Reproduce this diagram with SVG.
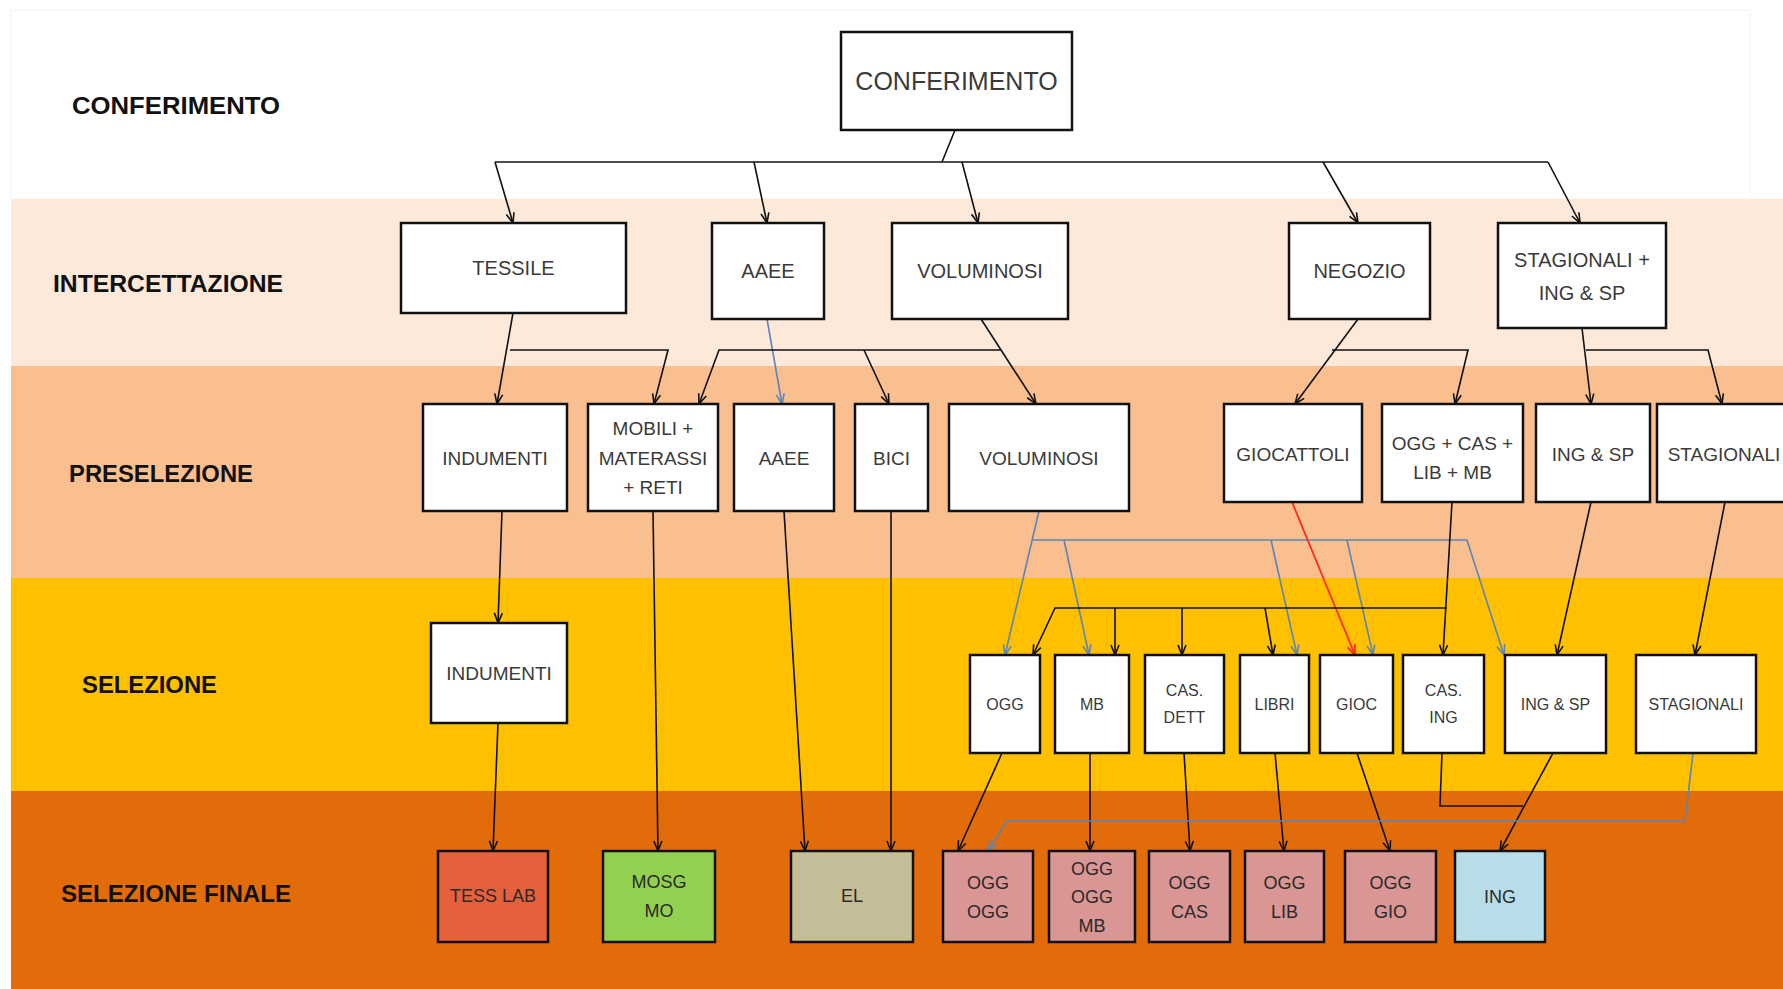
<svg xmlns="http://www.w3.org/2000/svg" width="1783" height="989" viewBox="0 0 1783 989">
<style>
.box{fill:#fff;stroke:#111;stroke-width:2.5}
.t{font-family:"Liberation Sans",Arial,sans-serif;fill:#3a3a3a;text-anchor:middle;dominant-baseline:central}
.t20{font-size:20px}.t19{font-size:19px}.t16{font-size:16px}.t18{font-size:18px;fill:#2a2a2a}
.lab{font-family:"Liberation Sans",Arial,sans-serif;font-weight:bold;font-size:24px;fill:#111;dominant-baseline:central}
.c{fill:none;stroke:#111;stroke-width:1.6}
.cb{fill:none;stroke:#5A85BA;stroke-width:1.6}
.cr{fill:none;stroke:#FF2A1A;stroke-width:1.8}
.a{marker-end:url(#ah)}
.ab{marker-end:url(#ahb)}
.ar{marker-end:url(#ahr)}
</style>
<defs>
<marker id="ah" viewBox="0 0 12 10" refX="11" refY="5" markerWidth="12" markerHeight="10" orient="auto" markerUnits="userSpaceOnUse"><path d="M1,1 L11,5 L1,9" fill="none" stroke="#111" stroke-width="1.6"/></marker>
<marker id="ahb" viewBox="0 0 12 10" refX="11" refY="5" markerWidth="12" markerHeight="10" orient="auto" markerUnits="userSpaceOnUse"><path d="M1,1 L11,5 L1,9" fill="none" stroke="#5A85BA" stroke-width="1.6"/></marker>
<marker id="ahr" viewBox="0 0 12 10" refX="11" refY="5" markerWidth="12" markerHeight="10" orient="auto" markerUnits="userSpaceOnUse"><path d="M1,1 L11,5 L1,9" fill="none" stroke="#FF2A1A" stroke-width="1.8"/></marker>
</defs>
<rect x="0" y="0" width="1783" height="989" fill="#fff"/>
<rect x="11" y="10" width="1739" height="189" fill="#fff" stroke="#f4f4f4" stroke-width="1"/>
<g id="bands">
<rect x="11" y="199" width="1772" height="167" fill="#FDE9D9"/>
<rect x="11" y="366" width="1772" height="212" fill="#F9BF8F"/>
<rect x="11" y="578" width="1772" height="213" fill="#FFC000"/>
<rect x="11" y="791" width="1772" height="198" fill="#E36C0A"/>
</g>
<g id="lane-labels">
<text class="lab" x="72" y="105" textLength="208" lengthAdjust="spacingAndGlyphs">CONFERIMENTO</text>
<text class="lab" x="53" y="283" textLength="230" lengthAdjust="spacingAndGlyphs">INTERCETTAZIONE</text>
<text class="lab" x="69" y="473" textLength="184" lengthAdjust="spacingAndGlyphs">PRESELEZIONE</text>
<text class="lab" x="82" y="684" textLength="135" lengthAdjust="spacingAndGlyphs">SELEZIONE</text>
<text class="lab" x="61" y="893" textLength="230" lengthAdjust="spacingAndGlyphs">SELEZIONE FINALE</text>
</g>
<g id="connectors">
<path class="c" d="M955,130 L942,162"/>
<path class="c" d="M495,162 L1548,162"/>
<path class="c a" d="M495,162 L513,223"/>
<path class="c a" d="M754,162 L767,223"/>
<path class="c a" d="M962,162 L978,223"/>
<path class="c a" d="M1323,162 L1358,223"/>
<path class="c a" d="M1548,162 L1580,223"/>
<path class="c a" d="M513,313 L497,404"/>
<path class="c a" d="M510,350 L668,350 L654,404"/>
<path class="cb ab" d="M767,319 L782,404"/>
<path class="c a" d="M981,319 L1036,404"/>
<path class="c a" d="M1001,350 L719,350 L699,404"/>
<path class="c a" d="M864,350 L889,404"/>
<path class="c a" d="M1358,319 L1295,404"/>
<path class="c a" d="M1332,350 L1468,350 L1455,404"/>
<path class="c a" d="M1582,328 L1591,404"/>
<path class="c a" d="M1586,350 L1708,350 L1722,404"/>
<path class="c a" d="M502,511 L498,623"/>
<path class="c a" d="M653,511 L658,851"/>
<path class="c a" d="M784,511 L805,851"/>
<path class="c a" d="M891,511 L891,851"/>
<path class="cb ab" d="M1039,511 L1005,655"/>
<path class="cb ab" d="M1033,540 L1467,540 L1504,655"/>
<path class="cb ab" d="M1064,540 L1089,655"/>
<path class="cb ab" d="M1271,540 L1297,655"/>
<path class="cb ab" d="M1347,540 L1373,655"/>
<path class="cr ar" d="M1292,502 L1355,655"/>
<path class="c a" d="M1452,502 L1443,655"/>
<path class="c a" d="M1447,608 L1055,608 L1033,655"/>
<path class="c a" d="M1115,608 L1115,655"/>
<path class="c a" d="M1182,608 L1182,655"/>
<path class="c a" d="M1265,608 L1273,655"/>
<path class="c a" d="M1591,502 L1557,655"/>
<path class="c a" d="M1725,502 L1695,655"/>
<path class="c a" d="M498,723 L493,851"/>
<path class="c a" d="M1002,753 L958,851"/>
<path class="c a" d="M1090,753 L1090,851"/>
<path class="c a" d="M1184,753 L1190,851"/>
<path class="c a" d="M1275,753 L1284,851"/>
<path class="c a" d="M1357,753 L1390,851"/>
<path class="c" d="M1442,753 L1440,806 L1523,806"/>
<path class="c a" d="M1553,753 L1500,851"/>
<path class="cb ab" d="M1693,753 L1685,821 L1007,821 L988,851"/>
</g>
<g id="n-conferimento"><rect class="box" x="841" y="32" width="231" height="98"/><text class="t" style="font-size:25px" x="956.5" y="81">CONFERIMENTO</text></g>
<g id="n-tessile"><rect class="box" x="401" y="223" width="225" height="90"/><text class="t t20" x="513.5" y="268">TESSILE</text></g>
<g id="n-aaee1"><rect class="box" x="712" y="223" width="112" height="96"/><text class="t t20" x="768" y="271">AAEE</text></g>
<g id="n-voluminosi1"><rect class="box" x="892" y="223" width="176" height="96"/><text class="t t20" x="980" y="271">VOLUMINOSI</text></g>
<g id="n-negozio"><rect class="box" x="1289" y="223" width="141" height="96"/><text class="t t20" x="1359.5" y="271">NEGOZIO</text></g>
<g id="n-stagionali1"><rect class="box" x="1498" y="223" width="168" height="105"/><text class="t t20" x="1582" y="260">STAGIONALI +</text><text class="t t20" x="1582" y="293">ING &amp; SP</text></g>
<g id="n-indumenti1"><rect class="box" x="423" y="404" width="144" height="107"/><text class="t t19" x="495" y="458">INDUMENTI</text></g>
<g id="n-mobili"><rect class="box" x="588" y="404" width="130" height="107"/><text class="t t19" x="653" y="428">MOBILI +</text><text class="t t19" x="653" y="458">MATERASSI</text><text class="t t19" x="653" y="487">+ RETI</text></g>
<g id="n-aaee2"><rect class="box" x="734" y="404" width="100" height="107"/><text class="t t19" x="784" y="458">AAEE</text></g>
<g id="n-bici"><rect class="box" x="855" y="404" width="73" height="107"/><text class="t t19" x="891.5" y="458">BICI</text></g>
<g id="n-voluminosi2"><rect class="box" x="949" y="404" width="180" height="107"/><text class="t t19" x="1039" y="458">VOLUMINOSI</text></g>
<g id="n-giocattoli"><rect class="box" x="1224" y="404" width="138" height="98"/><text class="t t19" x="1293" y="454">GIOCATTOLI</text></g>
<g id="n-oggcas"><rect class="box" x="1382" y="404" width="141" height="98"/><text class="t t19" x="1452.5" y="443">OGG + CAS +</text><text class="t t19" x="1452.5" y="472">LIB + MB</text></g>
<g id="n-ingsp1"><rect class="box" x="1536" y="404" width="114" height="98"/><text class="t t19" x="1593" y="454">ING &amp; SP</text></g>
<g id="n-stagionali2"><rect class="box" x="1657" y="404" width="140" height="98"/><text class="t t19" x="1724" y="454">STAGIONALI</text></g>
<g id="n-indumenti2"><rect class="box" x="431" y="623" width="136" height="100"/><text class="t t19" x="499" y="673">INDUMENTI</text></g>
<g id="n-ogg"><rect class="box" x="970" y="655" width="70" height="98"/><text class="t t16" x="1005" y="704">OGG</text></g>
<g id="n-mb"><rect class="box" x="1055" y="655" width="74" height="98"/><text class="t t16" x="1092" y="704">MB</text></g>
<g id="n-casdett"><rect class="box" x="1145" y="655" width="79" height="98"/><text class="t t16" x="1184.5" y="690">CAS.</text><text class="t t16" x="1184.5" y="717">DETT</text></g>
<g id="n-libri"><rect class="box" x="1240" y="655" width="69" height="98"/><text class="t t16" x="1274.5" y="704">LIBRI</text></g>
<g id="n-gioc"><rect class="box" x="1320" y="655" width="73" height="98"/><text class="t t16" x="1356.5" y="704">GIOC</text></g>
<g id="n-casing"><rect class="box" x="1403" y="655" width="81" height="98"/><text class="t t16" x="1443.5" y="690">CAS.</text><text class="t t16" x="1443.5" y="717">ING</text></g>
<g id="n-ingsp2"><rect class="box" x="1505" y="655" width="101" height="98"/><text class="t t16" x="1555.5" y="704">ING &amp; SP</text></g>
<g id="n-stagionali3"><rect class="box" x="1636" y="655" width="120" height="98"/><text class="t t16" x="1696" y="704">STAGIONALI</text></g>
<g id="n-tesslab"><rect class="box" style="fill:#E5603B" x="438" y="851" width="110" height="91"/><text class="t t18" x="493" y="896">TESS LAB</text></g>
<g id="n-mosgmo"><rect class="box" style="fill:#92D050" x="603" y="851" width="112" height="91"/><text class="t t18" x="659" y="882">MOSG</text><text class="t t18" x="659" y="911">MO</text></g>
<g id="n-el"><rect class="box" style="fill:#C4BD97" x="791" y="851" width="122" height="91"/><text class="t t18" x="852" y="896">EL</text></g>
<g id="n-oggogg"><rect class="box" style="fill:#D99694" x="943" y="851" width="90" height="91"/><text class="t t18" x="988" y="883">OGG</text><text class="t t18" x="988" y="912">OGG</text></g>
<g id="n-oggoggmb"><rect class="box" style="fill:#D99694" x="1049" y="851" width="86" height="91"/><text class="t t18" x="1092" y="869">OGG</text><text class="t t18" x="1092" y="897">OGG</text><text class="t t18" x="1092" y="926">MB</text></g>
<g id="n-oggcas2"><rect class="box" style="fill:#D99694" x="1149" y="851" width="81" height="91"/><text class="t t18" x="1189.5" y="883">OGG</text><text class="t t18" x="1189.5" y="912">CAS</text></g>
<g id="n-ogglib"><rect class="box" style="fill:#D99694" x="1245" y="851" width="79" height="91"/><text class="t t18" x="1284.5" y="883">OGG</text><text class="t t18" x="1284.5" y="912">LIB</text></g>
<g id="n-ogggio"><rect class="box" style="fill:#D99694" x="1345" y="851" width="91" height="91"/><text class="t t18" x="1390.5" y="883">OGG</text><text class="t t18" x="1390.5" y="912">GIO</text></g>
<g id="n-ing"><rect class="box" style="fill:#B7DEE8" x="1455" y="851" width="90" height="91"/><text class="t t18" x="1500" y="897">ING</text></g>
</svg>
